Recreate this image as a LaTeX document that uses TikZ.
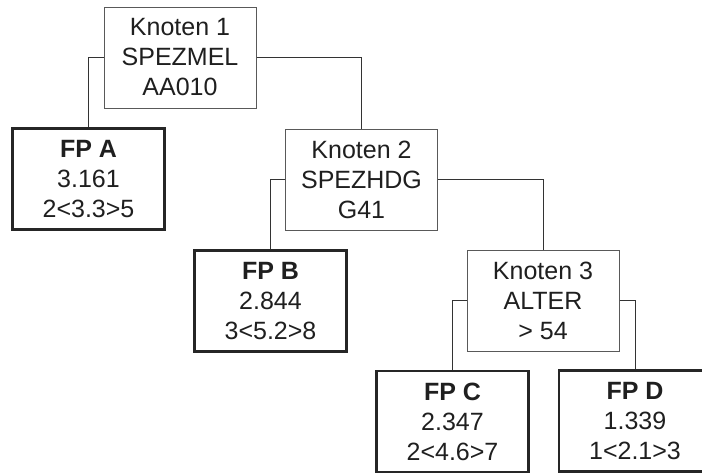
\documentclass[tikz,border=0pt]{standalone}
\usepackage{fontspec}
\setmainfont{Liberation Sans}
\usetikzlibrary{positioning}

\tikzset{
  knoten/.style={rectangle,draw=black!65,line width=1pt,minimum width=152pt,minimum height=101pt,inner sep=0pt,align=center,text=black!88,font=\fontsize{25}{30}\selectfont},
  blatt/.style={knoten,draw=black!85,line width=2.2pt},
  ast/.style={draw=black!80,line width=1pt}
}

\begin{document}
\begin{tikzpicture}[x=1pt,y=-1pt]
\useasboundingbox (0,0) rectangle (702,472);
\clip (0,0) rectangle (702,472);
% Knoten
\node[knoten] (k1) at (180,57.5) {Knoten 1\\SPEZMEL\\AA010};
\node[knoten] (k2) at (361.5,179.5) {Knoten 2\\SPEZHDG\\G41};
\node[knoten] (k3) at (543,300.5) {Knoten 3\\ALTER\\> 54};
% Endknoten
\node[blatt] (fpa) at (88.5,179) {\textbf{FP A}\\3.161\\2<3.3>5};
\node[blatt] (fpb) at (270.5,301) {\textbf{FP B}\\2.844\\3<5.2>8};
\node[blatt] (fpc) at (452.5,421.5) {\textbf{FP C}\\2.347\\2<4.6>7};
\node[blatt] (fpd) at (635,421) {\textbf{FP D}\\1.339\\1<2.1>3};
% Aeste
\draw[ast] (k1.west) -| (fpa.north);
\draw[ast] (k1.east) -| (k2.north);
\draw[ast] (k2.west) -| (fpb.north);
\draw[ast] (k2.east) -| (k3.north);
\draw[ast] (k3.west) -| (fpc.north);
\draw[ast] (k3.east) -| (fpd.north);
\end{tikzpicture}
\end{document}
